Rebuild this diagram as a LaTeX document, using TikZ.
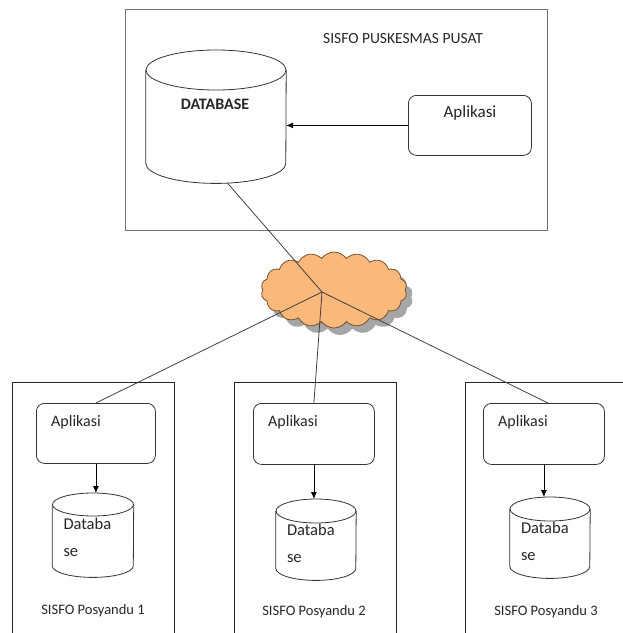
\documentclass[tikz,border=0pt]{standalone}
\usepackage{fontspec}
\setmainfont{Carlito}
\usetikzlibrary{shapes.symbols,arrows.meta,calc,shadows}

\definecolor{cloudfill}{RGB}{250,184,122}
\definecolor{cloudedge}{RGB}{120,80,45}

% database drum: name, centre x, top y, half width, height, ellipse radius
\newcommand\dbdrum[6]{%
  \node[inner sep=0, minimum width=2*#4pt, minimum height=#5pt, anchor=north] (#1) at (#2,#3) {};
  \draw[drum] ($(#1.north west)+(0,#6)$) -- ($(#1.south west)+(0,-#6)$)
      arc[start angle=180, end angle=360, x radius=#4pt, y radius=#6pt]
      -- ($(#1.north east)+(0,#6)$);
  \draw[drum] ($(#1.north)+(0,#6)$) ellipse [x radius=#4pt, y radius=#6pt];
}

\begin{document}
\begin{tikzpicture}[x=1pt, y=-1pt,
  frame/.style={draw=black!55, line width=1.1pt, inner sep=0, anchor=north west},
  site/.style={draw=black!85, line width=1.1pt, inner sep=0, anchor=north west},
  appbox/.style={draw=black!80, line width=0.8pt, rounded corners=8pt, inner sep=0, anchor=north west, fill=white},
  drum/.style={draw=black!80, line width=0.8pt, fill=white},
  lbl/.style={font=\fontsize{14.5}{17}\selectfont, inner sep=0, text=black!85},
  dblbl/.style={font=\fontsize{16.5}{27}\selectfont, inner sep=0, align=left, anchor=north west, text=black!85},
  link/.style={draw=black!75, line width=0.8pt},
  flow/.style={draw=black, line width=0.8pt, -{Latex[length=7pt,width=6pt]}}]
\useasboundingbox (0,0) rectangle (623,633);
\clip (0,0) rectangle (623,633);

% central site
\node[frame, minimum width=422pt, minimum height=221pt] (centre) at (125,9) {};
\node[lbl, font=\fontsize{15.5}{18}\selectfont] (ctitle) at (403,39) {SISFO PUSKESMAS PUSAT};
\dbdrum{dbmain}{216}{50}{70}{133}{20}
\node[lbl, font=\fontsize{16}{18}\selectfont\bfseries] (dbmaintxt) at (215,104) {DATABASE};
\node[appbox, minimum width=123pt, minimum height=60pt] (aplc) at (408,95) {};
\node[lbl, font=\fontsize{17}{19}\selectfont] (aplctxt) at (470,113) {Aplikasi};
\draw[flow] (aplc.west) -- (aplc.west -| dbmain.east);

% branch sites
\node[site, minimum width=162pt, minimum height=270pt] (site1) at (12,382) {};
\node[site, minimum width=162pt, minimum height=270pt] (site2) at (234,382) {};
\node[site, minimum width=200pt, minimum height=270pt] (site3) at (465,382) {};

\node[appbox, minimum width=119pt, minimum height=60pt] (apl1) at (36,403) {};
\node[appbox, minimum width=121pt, minimum height=61pt] (apl2) at (253,403) {};
\node[appbox, minimum width=121pt, minimum height=61pt] (apl3) at (483,403) {};
\foreach \k in {1,2,3}{
  \node[lbl, anchor=west, font=\fontsize{16}{18}\selectfont] (apl\k txt) at ($(apl\k.north west)+(15,19)$) {Aplikasi};
}

\dbdrum{db1}{93}{493}{40.5}{84}{11.5}
\dbdrum{db2}{316}{499}{40}{81}{12}
\dbdrum{db3}{550}{497}{40}{81}{12}
\foreach \k in {1,2,3}{
  \node[dblbl] (db\k txt) at ($(db\k.north west)+(11,25)$) {Databa\\se};
  \draw[flow] (apl\k.south) -- (apl\k.south |- db\k.north);
}

\node[lbl] (site1txt) at (93,611) {SISFO Posyandu 1};
\node[lbl] (site2txt) at (314,612) {SISFO Posyandu 2};
\node[lbl] (site3txt) at (546,612) {SISFO Posyandu 3};

% network cloud and its links
\node[cloud, cloud puffs=18, cloud puff arc=110, aspect=2, minimum width=146pt, minimum height=76pt,
      inner sep=0, fill=cloudfill, draw=cloudedge, line width=0.8pt,
      drop shadow={shadow xshift=6pt, shadow yshift=-7pt, fill=black!35, opacity=1}] (net) at (334,290) {};
\coordinate (hub) at (322,292);
\draw[link] (dbmain.-80) -- (hub);
\draw[link] (hub) -- (apl1.north);
\draw[link] (hub) -- (apl2.north);
\draw[link] (hub) -- ($(apl3.north)+(4,0)$);
\end{tikzpicture}
\end{document}
